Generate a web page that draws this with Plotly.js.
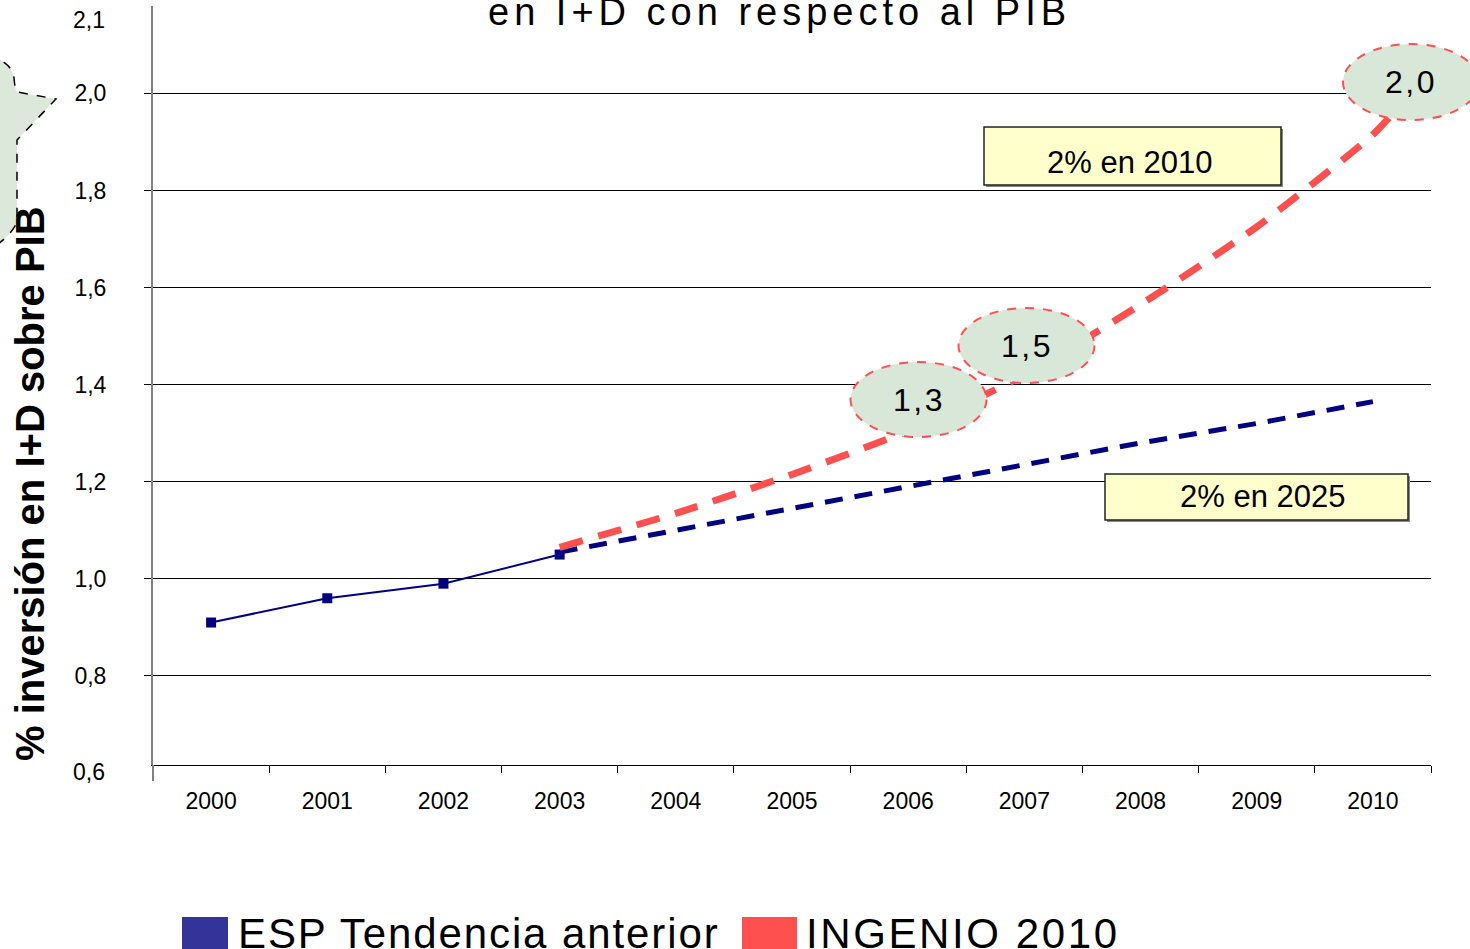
<!DOCTYPE html>
<html><head><meta charset="utf-8">
<script src="https://cdn.plot.ly/plotly-3.0.1.min.js"></script>
<style>html,body{margin:0;padding:0;background:#fff;} #chart{width:1470px;height:949px;}</style>
</head><body><div id="chart"></div>
<script>
// ---- data ----
const years = [2000, 2001, 2002, 2003, 2004, 2005, 2006, 2007, 2008, 2009, 2010];
const yearLabels = ['2000','2001','2002','2003','2004','2005','2006','2007','2008','2009','2010'];
const espYears = [2000, 2001, 2002, 2003];
const espValues = [0.91, 0.96, 0.99, 1.05];
const trendYears = [2003, 2004, 2005, 2006, 2007, 2008, 2009, 2010];
const trendValues = [1.055, 1.10, 1.145, 1.19, 1.235, 1.28, 1.32, 1.365];
const ingenioYears = [2003, 2004, 2005, 2006, 2007, 2008, 2009, 2010, 2010.25];
const ingenioValues = [1.065, 1.135, 1.215, 1.305, 1.42, 1.565, 1.725, 1.915, 1.98];
const yTickVals = [0.8, 1.0, 1.2, 1.4, 1.6, 1.8, 2.0];
const yTickText = ['0,8', '1,0', '1,2', '1,4', '1,6', '1,8', '2,0'];
const yEdgeLabels = ['0,6', '2,1'];
const milestoneLabels = ['1,3', '1,5', '2,0'];
const targetLabels = ['2% en 2010', '2% en 2025'];
const seriesNames = ['ESP Tendencia anterior', 'INGENIO 2010'];
const titleText = 'en I+D con respecto al PIB';
const yTitleText = '% inversión en I+D sobre PIB';

// ---- layout helpers (pixel -> paper) ----
const L = 153, R = 1431, T = 6, B = 765;
const px = p => (p - L) / (R - L);
const py = p => (B - p) / (B - T);
const FONT = 'Liberation Sans, Arial, sans-serif';
const NAVY = '#000080', RED = '#ff5050', LEG_BLUE = '#333399';

const traces = [
  { x: espYears, y: espValues, type: 'scatter', mode: 'lines+markers', name: seriesNames[0],
    line: { color: NAVY, width: 2 }, marker: { symbol: 'square', size: 10, color: NAVY }, showlegend: false },
  { x: trendYears, y: trendValues, type: 'scatter', mode: 'lines', name: seriesNames[0] + ' (proyección)',
    line: { color: NAVY, width: 5, dash: '18px,12px' }, showlegend: false },
  { x: ingenioYears, y: ingenioValues, type: 'scatter', mode: 'lines', name: seriesNames[1],
    line: { color: RED, width: 7, dash: '24px,16px', shape: 'spline', smoothing: 0.6 }, showlegend: false }
];

function ellipse(cx, cy, rx, ry) {
  return { type: 'circle', xref: 'paper', yref: 'paper', layer: 'above',
    x0: px(cx - rx), x1: px(cx + rx), y0: py(cy + ry), y1: py(cy - ry),
    fillcolor: '#d9e7d8', line: { color: RED, width: 2, dash: 'dash' } };
}
function rect(x0, y0, x1, y1, fill, lineColor, lw) {
  return { type: 'rect', xref: 'paper', yref: 'paper', layer: 'above',
    x0: px(x0), x1: px(x1), y0: py(y1), y1: py(y0),
    fillcolor: fill, line: { color: lineColor, width: lw } };
}
function pathPx(pts) {
  return pts.map(s => s.replace(/(-?[\d.]+),(-?[\d.]+)/g, (m, a, b) => px(+a).toFixed(5) + ',' + py(+b).toFixed(5))).join(' ');
}
function ann(text, x, y, size, opts) {
  return Object.assign({ text: text, xref: 'paper', yref: 'paper', x: px(x), y: py(y), showarrow: false,
    font: { family: FONT, size: size, color: '#000' }, xanchor: 'center', yanchor: 'middle' }, opts || {});
}

const calloutPath = pathPx(['M -30,50', 'Q 12,58 14,78', 'Q 15,90 17,92', 'L 56,99', 'L 17,140', 'L 17,222', 'Q 10,240 -30,262', 'Z']);

const shapes = [
  { type: 'path', xref: 'paper', yref: 'paper', layer: 'above', path: calloutPath,
    fillcolor: '#dce8da', line: { color: '#000', width: 1.5, dash: 'dash' } },
  { type: 'line', xref: 'paper', yref: 'paper', x0: 0, x1: 0, y0: py(765), y1: py(781), line: { color: '#808080', width: 2 } },
  rect(986, 129, 1283, 187, '#888', '#888', 0),
  rect(984, 127, 1281, 185, '#ffffcc', '#222', 1.5),
  rect(1107, 476, 1410, 522, '#888', '#888', 0),
  rect(1105, 474, 1408, 520, '#ffffcc', '#222', 1.5),
  ellipse(918.5, 399.5, 68, 37.5),
  ellipse(1026.5, 345.5, 68, 37.5),
  ellipse(1411, 82, 68, 38),
  rect(182, 917, 228, 970, LEG_BLUE, LEG_BLUE, 0),
  rect(742, 917, 797, 970, RED, RED, 0)
];

const sp = (t, s) => '<span style="letter-spacing:' + s + 'px">' + t + '</span>';

const annotations = [
  ann(sp(titleText, 5), 779, 12, 38),
  ann(yTitleText, 30, 484, 40, { textangle: -90, font: { family: FONT, size: 40, color: '#000', weight: 'bold' } }),
  ann(yEdgeLabels[0], 107, 772, 23, { xanchor: 'right' }),
  ann(yEdgeLabels[1], 107, 20, 23, { xanchor: 'right' }),
  ann(sp(milestoneLabels[0], 2.5), 919, 400, 32),
  ann(sp(milestoneLabels[1], 2.5), 1027, 346, 32),
  ann(sp(milestoneLabels[2], 2.5), 1411, 82, 32),
  ann(targetLabels[0], 1129, 162, 31),
  ann(targetLabels[1], 1262, 496, 31),
  ann(sp(seriesNames[0], 1.9), 236, 934, 42, { xanchor: 'left' }),
  ann(sp(seriesNames[1], 2.6), 804, 934, 42, { xanchor: 'left' })
];

const layout = {
  width: 1470, height: 949,
  margin: { l: L, r: 1470 - R, t: T, b: 949 - B },
  paper_bgcolor: '#fff', plot_bgcolor: '#fff',
  font: { family: FONT, color: '#000' },
  hovermode: false,
  xaxis: {
    range: [1999.5, 2010.5], tickvals: years, ticktext: yearLabels, ticks: '',
    tickfont: { family: FONT, size: 23, color: '#000' }, ticklabelstandoff: 15,
    showgrid: false, zeroline: false, showline: true, linecolor: '#000', linewidth: 1,
    minor: { tickvals: years.map(v => v - 0.5).concat([2010.5]), ticks: 'outside', ticklen: 7, tickcolor: '#000', tickwidth: 1, showgrid: false }
  },
  yaxis: {
    range: [0.6165, 2.18], tickvals: yTickVals, ticktext: yTickText, ticks: 'outside', ticklen: 7, tickcolor: '#000',
    tickfont: { family: FONT, size: 23, color: '#000' }, ticklabelstandoff: 33,
    showgrid: true, gridcolor: '#000', gridwidth: 1, zeroline: false,
    showline: true, linecolor: '#808080', linewidth: 2
  },
  shapes: shapes,
  annotations: annotations
};

Plotly.newPlot('chart', traces, layout, { staticPlot: true, displayModeBar: false });
</script>
</body></html>
